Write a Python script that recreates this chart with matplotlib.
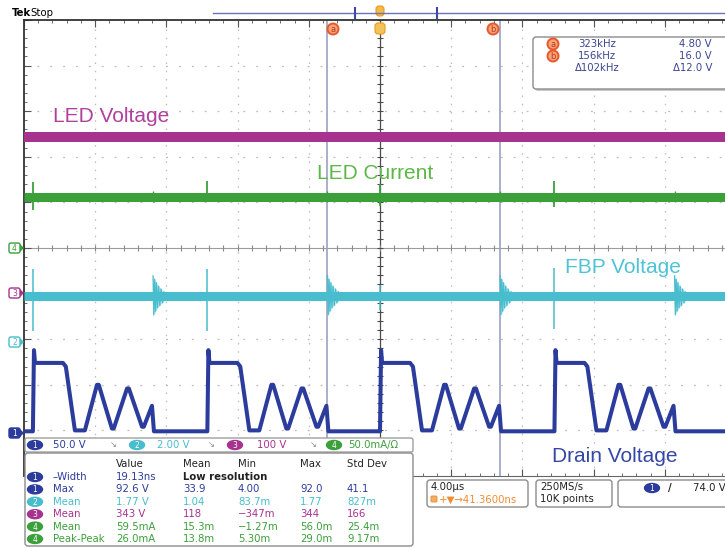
import numpy as np
import matplotlib.pyplot as plt
from matplotlib.patches import FancyBboxPatch, Ellipse, Circle, Polygon

W, H = 725, 548

# ---- values ----
# horizontal: 4.00 us/div, trigger at the centre
t_left, t_right = -20.0, 20.0

# ch1 drain voltage (V): one switching cycle, time relative to each turn-off edge
drain_dt = [0.0, 0.06, 0.12, 1.69, 1.85, 2.36, 2.92, 3.60, 3.70,
            4.44, 4.54, 5.29, 5.39, 6.13, 6.23, 6.69, 6.80]
drain_v = [2, 91, 77, 77, 73, 3, 3, 53, 53,
           5, 5, 49, 49, 7, 7, 30, 2]
drain_edges = [-19.5, -9.7, 0.0, 9.8]
drain_idle = 2

# ch2 FBP voltage (V)
fbp_level = 2.0
fbp_spike_hi = [3.2, 3.2, 2.5, 3.25]
fbp_spike_lo = [0.5, 0.5, 1.4, 0.55]
# ringing when the drain voltage collapses, offset from the FBP level
ring_delay = 6.75
ring_dt = [0.0, 0.04, 0.09, 0.14, 0.19, 0.25, 0.31, 0.38, 0.45, 0.53, 0.62, 0.72, 0.85, 1.0]
ring_v = [0.9, -0.8, 0.75, -0.65, 0.6, -0.5, 0.45, -0.4, 0.32, -0.28, 0.2, -0.15, 0.1, 0.0]

# ch3 LED voltage (V)
led_v_level = 342

# ch4 LED current (mA)
led_i_level = 56
led_i_spike_hi = [72, 74, 70, 73]
led_i_spike_lo = [42, 53, 46, 45]
led_i_blip_hi = 62
led_i_blip_lo = 50

# cursor readout
cursor_t = [-2.98, 6.74]
cursor_freq = ["323kHz", "156kHz", "Δ102kHz"]
cursor_volt = ["4.80 V", "16.0 V", "Δ12.0 V"]

# measurement table
ch_scale_text = ["50.0 V", "2.00 V", "100 V", "50.0mA/Ω"]
meas_head = ["Value", "Mean", "Min", "Max", "Std Dev"]
meas_ch = [1, 1, 2, 3, 4, 4]
meas_name = ["–Width", "Max", "Mean", "Mean", "Mean", "Peak-Peak"]
meas_value = ["19.13ns", "92.6 V", "1.77 V", "343 V", "59.5mA", "26.0mA"]
meas_mean = ["", "33.9", "1.04", "118", "15.3m", "13.8m"]
meas_min = ["", "4.00", "83.7m", "−347m", "−1.27m", "5.30m"]
meas_max = ["", "92.0", "1.77", "344", "56.0m", "29.0m"]
meas_std = ["", "41.1", "827m", "166", "25.4m", "9.17m"]

# ---- channel setup ----
ch_color = {1: '#2b3c9c', 2: '#47bdcd', 3: '#a8338f', 4: '#3b9f3a'}
ch_scale = {1: 50.0, 2: 2.0, 3: 100.0, 4: 50.0}
ch_gnd = {1: -4.06, 2: -2.06, 3: -0.99, 4: 0.0}


def to_div(ch, v):
    return np.asarray(v, dtype=float) / ch_scale[ch] + ch_gnd[ch]


fig = plt.figure(figsize=(7.25, 5.48), dpi=100)
ax = fig.add_axes([24 / W, 1 - 476 / H, 712 / W, 456 / H])
ax.set_xlim(t_left, t_right)
ax.set_ylim(-5, 5)

# graticule
for k in range(-4, 5):
    if k == 0:
        continue
    ax.axvline(k * 4, color='#bdbdbd', lw=0.9, ls=(0, (1.2, 5.4)), zorder=0)
    ax.axhline(k, color='#bdbdbd', lw=0.9, ls=(0, (1.5, 8.8)), zorder=0)
ax.axhline(0, color='#9c9c9c', lw=0.8, zorder=0)
ax.axvline(0, color='#4a4a4a', lw=0.9, zorder=0)
xt = np.arange(-20, 20.01, 0.8)
ax.vlines(xt, -0.07, 0.07, color='#8a8a8a', lw=0.8, zorder=0)
yt = np.arange(-5, 5.01, 0.2)
ax.hlines(yt, -0.17, 0.17, color='#4a4a4a', lw=0.8, zorder=0)

for s in ['top', 'left']:
    ax.spines[s].set_color('#333333')
    ax.spines[s].set_linewidth(1.3)
ax.spines['bottom'].set_color('#666666')
ax.spines['right'].set_visible(False)
ax.set_xticks(np.arange(-20, 21, 4))
ax.set_xticks(xt, minor=True)
ax.set_yticks(np.arange(-5, 6, 1))
ax.set_yticks(yt, minor=True)
ax.tick_params(which='both', direction='in', top=True, bottom=True, left=True, right=False,
               labelbottom=False, labelleft=False, color='#555555')
ax.tick_params(which='major', length=5)
ax.tick_params(which='minor', length=2.5)

# cursors
for c in cursor_t:
    ax.axvline(c, color='#9da1c4', lw=1.2, zorder=1)

# ch3 LED voltage
ax.plot([t_left, t_right], to_div(3, [led_v_level] * 2), color=ch_color[3], lw=7.2,
        solid_capstyle='butt', zorder=3)

# ch4 LED current
ax.plot([t_left, t_right], to_div(4, [led_i_level] * 2), color=ch_color[4], lw=6.5,
        solid_capstyle='butt', zorder=3)
ax.vlines(drain_edges, to_div(4, led_i_spike_lo), to_div(4, led_i_spike_hi),
          color=ch_color[4], lw=1.3, zorder=3)
ax.vlines([e + ring_delay for e in drain_edges], to_div(4, led_i_blip_lo), to_div(4, led_i_blip_hi),
          color=ch_color[4], lw=1.0, zorder=3)

# ch2 FBP voltage
ax.plot([t_left, t_right], to_div(2, [fbp_level] * 2), color=ch_color[2], lw=6.5,
        solid_capstyle='butt', zorder=3)
ax.vlines(drain_edges, to_div(2, fbp_spike_lo), to_div(2, fbp_spike_hi),
          color=ch_color[2], lw=1.1, zorder=3)
for e in drain_edges:
    rt = np.array(ring_dt) + e + ring_delay
    ax.plot(rt, to_div(2, fbp_level + np.array(ring_v)), color=ch_color[2], lw=0.9, zorder=3)
    env = np.abs(ring_v)
    ax.fill_between(rt, to_div(2, fbp_level - env), to_div(2, fbp_level + env),
                    color=ch_color[2], alpha=0.4, lw=0, zorder=3)

# ch1 drain voltage
t_drain = [t_left]
v_drain = [drain_idle]
for e in drain_edges:
    t_drain += [e + d for d in drain_dt]
    v_drain += drain_v
t_drain.append(t_right)
v_drain.append(drain_idle)
ax.plot(t_drain, to_div(1, v_drain), color=ch_color[1], lw=2.9, zorder=4)

# ---- overlay in pixel coordinates ----
ui = fig.add_axes([0, 0, 1, 1], zorder=5)
ui.set_xlim(0, W)
ui.set_ylim(H, 0)
ui.axis('off')

big = dict(fontsize=15, family='Liberation Sans', va='baseline', ha='left')
ui.text(53, 122, 'LED Voltage', color='#b0409c', **big)
ui.text(317, 179, 'LED Current', color='#5cb846', **big)
ui.text(565, 273, 'FBP Voltage', color='#4fc3d6', **big)
ui.text(552, 462, 'Drain Voltage', color='#3447a6', **big)

sm = dict(fontsize=7.3, family='DejaVu Sans', va='center')


def rbox(x0, y0, x1, y1, ec='#8c8c8c', lw=1.0, r=3, shadow=False):
    if shadow:
        ui.add_patch(FancyBboxPatch((x0 + 2, y0 + 2), x1 - x0, y1 - y0,
                                    boxstyle=f'round,pad=0,rounding_size={r}',
                                    fc='#c8c8c8', ec='none'))
    ui.add_patch(FancyBboxPatch((x0, y0), x1 - x0, y1 - y0,
                                boxstyle=f'round,pad=0,rounding_size={r}',
                                fc='white', ec=ec, lw=lw))


def badge(x, y, ch):
    ui.add_patch(Ellipse((x, y), 15, 9, fc=ch_color[ch], ec=ch_color[ch]))
    ui.text(x, y + 0.5, str(ch), color='white', fontsize=5.5, ha='center', va='center')


def cursor_dot(x, y, letter):
    ui.add_patch(Circle((x, y), 5.5, fc='#f7a37c', ec='#e8582a', lw=1.4))
    ui.text(x, y + 0.5, letter, color='#c23a10', fontsize=6, ha='center', va='center')


# top status line
ui.text(12, 13, 'Tek', color='black', weight='bold', **sm)
ui.text(30, 13, 'Stop', color='black', **sm)
ui.plot([213, 725], [13, 13], color='#6a72b8', lw=1)
for x in [355, 437]:
    ui.plot([x, x], [8, 18], color='#3a48a8', lw=1.5)
ui.add_patch(FancyBboxPatch((376, 6), 8, 10, boxstyle='round,pad=0,rounding_size=3',
                            fc='#f4bb4a', ec='#e89a20', lw=0.8))
ui.add_patch(FancyBboxPatch((375, 23), 10, 11, boxstyle='round,pad=0,rounding_size=3',
                            fc='#f4c25a', ec='#e89a20', lw=0.8))
cursor_dot(333, 29, 'a')
cursor_dot(493, 29, 'b')

# cursor readout box
rbox(533, 37, 730, 89, shadow=True)
cursor_dot(553, 44, 'a')
cursor_dot(553, 56, 'b')
for i in range(3):
    y = 44 + 12 * i
    ui.text(597, y, cursor_freq[i], color='#3c4490', ha='center', **sm)
    ui.text(712, y, cursor_volt[i], color='#3c4490', ha='right', **sm)

# ground markers on the left
for ch, yy in [(4, 248), (3, 293), (2, 342), (1, 433)]:
    fc = ch_color[ch] if ch == 1 else 'white'
    tc = 'white' if ch == 1 else ch_color[ch]
    ui.add_patch(FancyBboxPatch((9, yy - 5), 11, 10, boxstyle='round,pad=0,rounding_size=2',
                                fc=fc, ec=ch_color[ch], lw=1))
    ui.add_patch(Polygon([[20, yy - 4], [24, yy], [20, yy + 4]], closed=True,
                         fc=ch_color[ch], ec='none'))
    ui.text(14.5, yy + 0.5, str(ch), color=tc, fontsize=5.5, ha='center', va='center')

# channel bar and measurement table
rbox(25, 438, 413, 452, ec='#a0a0a0', r=2)
for ch, x_b, x_t in [(1, 35, 53), (2, 137, 157), (3, 235, 257), (4, 334, 348)]:
    badge(x_b, 445, ch)
    ui.text(x_t, 445, ch_scale_text[ch - 1], color=ch_color[ch], **sm)
for x in [113, 211, 313]:
    ui.text(x, 445, '↘', color='#888888', fontsize=6, ha='center', va='center')

rbox(25, 453, 413, 546, ec='#8c8c8c', r=3)
col_x = [116, 183, 238, 300, 347]
for x, h in zip(col_x, meas_head):
    ui.text(x, 464, h, color='#222222', **sm)
for i, ch in enumerate(meas_ch):
    y = 477 + 12.4 * i
    c = ch_color[ch]
    badge(35, y, ch)
    ui.text(53, y, meas_name[i], color=c, **sm)
    cols = [meas_value[i], meas_mean[i], meas_min[i], meas_max[i], meas_std[i]]
    for x, s in zip(col_x, cols):
        if s:
            ui.text(x, y, s, color=c, **sm)
ui.text(183, 477, 'Low resolution', color='#222222', weight='bold', **sm)

# timebase / acquisition / trigger boxes
rbox(427, 480, 528, 507)
ui.text(431, 487, '4.00µs', color='#222222', **sm)
ui.add_patch(FancyBboxPatch((431, 496), 6, 6, boxstyle='round,pad=0,rounding_size=1',
                            fc='#f4b060', ec='#e08a30', lw=0.6))
ui.text(439, 499.5, '+▼→41.3600ns', color='#f08c30', **sm)

rbox(536, 480, 612, 507)
ui.text(540, 487, '250MS/s', color='#222222', **sm)
ui.text(540, 499, '10K points', color='#222222', **sm)

rbox(618, 480, 735, 507)
badge(652, 488, 1)
ui.text(668, 488, '/', color='#222222', weight='bold', **sm)
ui.text(693, 488, '74.0 V', color='#222222', **sm)

fig.savefig('out.png', dpi=100)
